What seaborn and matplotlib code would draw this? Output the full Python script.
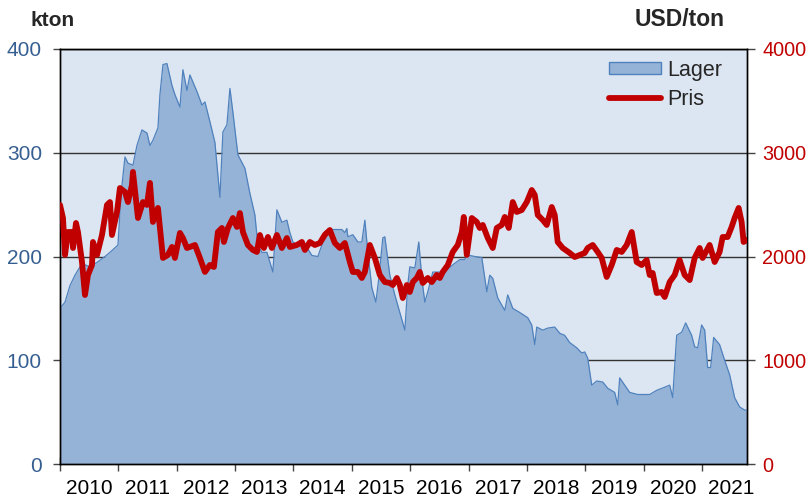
import numpy as np
import pandas as pd
import matplotlib
matplotlib.use("Agg")
import matplotlib.pyplot as plt
from matplotlib.patches import Patch
from matplotlib.lines import Line2D
import seaborn as sns

# ---- data (decimal years after 2010.0) ----
lager_t = [0.000, 0.086, 0.171, 0.257, 0.342, 0.428, 0.514, 0.651, 0.771, 0.856, 0.993,
           1.027, 1.062, 1.113, 1.164, 1.250, 1.318, 1.404, 1.490, 1.541, 1.592, 1.678,
           1.712, 1.764, 1.832, 1.918, 1.969, 2.055, 2.106, 2.175, 2.226, 2.346, 2.432,
           2.483, 2.568, 2.654, 2.740, 2.791, 2.860, 2.911, 2.962, 3.048, 3.168, 3.253,
           3.339, 3.390, 3.459, 3.545, 3.647, 3.716, 3.801, 3.887, 3.938, 3.990, 4.075,
           4.229, 4.315, 4.418, 4.486, 4.538, 4.658, 4.829, 4.880, 4.914, 4.932, 5.017,
           5.103, 5.171, 5.223, 5.274, 5.342, 5.411, 5.462, 5.531, 5.565, 5.651, 5.736,
           5.822, 5.908, 5.959, 5.993, 6.079, 6.147, 6.199, 6.250, 6.301, 6.387, 6.592,
           6.729, 6.849, 6.935, 6.969, 7.021, 7.106, 7.226, 7.312, 7.363, 7.414, 7.500,
           7.620, 7.671, 7.757, 7.877, 8.014, 8.082, 8.134, 8.168, 8.271, 8.356, 8.476,
           8.562, 8.647, 8.733, 8.853, 8.938, 8.990, 9.041, 9.110, 9.195, 9.298, 9.384,
           9.503, 9.555, 9.589, 9.675, 9.760, 9.897, 10.103, 10.223, 10.360, 10.445,
           10.497, 10.565, 10.651, 10.719, 10.822, 10.873, 10.925, 10.993, 11.045,
           11.096, 11.147, 11.199, 11.301, 11.387, 11.473, 11.558, 11.644, 11.729, 11.764]
lager_v = [150, 156, 172, 182, 190, 192, 190, 195, 200, 204, 211,
           243, 269, 296, 290, 288, 307, 322, 319, 307, 312, 324,
           356, 385, 386, 365, 356, 344, 380, 360, 375, 359, 346,
           349, 330, 310, 257, 320, 327, 362, 339, 298, 285, 261,
           240, 211, 204, 204, 185, 245, 233, 235, 223, 214, 211,
           209, 201, 200, 211, 224, 226, 226, 223, 227, 219, 221,
           214, 214, 235, 204, 170, 156, 179, 218, 219, 182, 163,
           146, 129, 173, 190, 189, 214, 179, 156, 166, 185, 185,
           192, 197, 197, 203, 201, 200, 199, 166, 182, 179, 160,
           148, 163, 150, 146, 141, 134, 115, 132, 129, 131, 132,
           126, 124, 117, 112, 107, 108, 102, 76, 80, 79, 73,
           69, 57, 83, 76, 69, 67, 67, 71, 74, 76,
           64, 124, 127, 136, 124, 113, 112, 134, 129,
           93, 93, 122, 115, 100, 86, 64, 55, 52, 52]

pris_t = [0.000, 0.051, 0.086, 0.137, 0.205, 0.223, 0.274, 0.308, 0.377, 0.428, 0.479,
          0.548, 0.565, 0.634, 0.719, 0.805, 0.856, 0.890, 0.976, 1.027, 1.113, 1.164,
          1.233, 1.250, 1.336, 1.421, 1.490, 1.541, 1.592, 1.678, 1.764, 1.849, 1.918,
          1.969, 2.055, 2.106, 2.175, 2.226, 2.312, 2.397, 2.483, 2.568, 2.637, 2.705,
          2.774, 2.808, 2.877, 2.962, 3.031, 3.082, 3.134, 3.219, 3.305, 3.373, 3.425,
          3.493, 3.562, 3.630, 3.716, 3.801, 3.887, 3.938, 4.058, 4.144, 4.195, 4.281,
          4.366, 4.452, 4.538, 4.623, 4.709, 4.795, 4.880, 4.966, 5.017, 5.103, 5.171,
          5.223, 5.308, 5.394, 5.479, 5.565, 5.651, 5.702, 5.771, 5.822, 5.873, 5.942,
          5.993, 6.045, 6.113, 6.164, 6.216, 6.301, 6.370, 6.455, 6.507, 6.558, 6.644,
          6.729, 6.815, 6.884, 6.918, 6.969, 7.055, 7.140, 7.192, 7.243, 7.329, 7.414,
          7.483, 7.568, 7.620, 7.688, 7.757, 7.825, 7.911, 7.997, 8.082, 8.134, 8.185,
          8.271, 8.339, 8.425, 8.476, 8.527, 8.613, 8.733, 8.818, 8.904, 8.990, 9.041,
          9.127, 9.212, 9.281, 9.366, 9.452, 9.538, 9.623, 9.709, 9.795, 9.880, 9.966,
          10.051, 10.103, 10.154, 10.223, 10.308, 10.360, 10.445, 10.531, 10.616,
          10.702, 10.788, 10.873, 10.959, 11.010, 11.130, 11.216, 11.301, 11.353,
          11.438, 11.507, 11.558, 11.627, 11.678, 11.712, 11.764]
pris_v = [2497, 2371, 2015, 2236, 2236, 2082, 2323, 2236, 1947, 1629, 1822,
          1918, 2140, 2015, 2207, 2497, 2525, 2207, 2429, 2660, 2622, 2525,
          2689, 2815, 2371, 2525, 2497, 2709, 2333, 2468, 1986, 2015, 2092,
          1986, 2227, 2178, 2082, 2092, 2111, 1986, 1851, 1918, 1899, 2236,
          2275, 2140, 2275, 2371, 2285, 2419, 2236, 2111, 2063, 2044, 2207,
          2082, 2188, 2082, 2207, 2082, 2178, 2092, 2111, 2140, 2063, 2140,
          2111, 2130, 2210, 2255, 2130, 2082, 2130, 1947, 1851, 1851, 1793,
          1851, 2111, 1986, 1822, 1754, 1745, 1725, 1793, 1725, 1600, 1725,
          1658, 1754, 1793, 1851, 1745, 1793, 1754, 1822, 1793, 1851, 1918,
          2044, 2111, 2236, 2381, 2015, 2371, 2333, 2275, 2304, 2178, 2082,
          2275, 2304, 2381, 2275, 2525, 2429, 2448, 2525, 2641, 2593, 2400,
          2352, 2304, 2477, 2400, 2140, 2082, 2034, 1995, 2015, 2034, 2082,
          2111, 2044, 1986, 1803, 1918, 2063, 2044, 2111, 2236, 1947, 1918,
          1966, 1822, 1841, 1648, 1658, 1610, 1754, 1822, 1966,
          1822, 1773, 1986, 2082, 1986, 2111, 1947, 2044, 2188,
          2188, 2285, 2371, 2468, 2333, 2140, 2159]

years = list(range(2010, 2022))
left_ticks = [0, 100, 200, 300, 400]
right_ticks = [0, 1000, 2000, 3000, 4000]

start_year = 2010
df_l = pd.DataFrame({"t": np.array(lager_t) + start_year, "v": lager_v})
df_p = pd.DataFrame({"t": np.array(pris_t) + start_year, "v": pris_v})

# ---- styling ----
sns.set_theme(style="white")
plt.rcParams["font.family"] = ["Liberation Sans", "DejaVu Sans"]

BG = "#dce6f2"
FILL = "#95b3d7"
EDGE = "#4f81bd"
RED = "#c00000"
BLUE_TXT = "#365f91"
FS = 15

fig = plt.figure(figsize=(8.09, 4.99), dpi=100)
ax = fig.add_axes([60 / 809, 1 - 464 / 499, 687 / 809, 415 / 499])
ax.set_facecolor(BG)
ax.set_axisbelow(True)

ax.fill_between(df_l["t"], 0, df_l["v"], color=FILL, zorder=2, linewidth=0)
sns.lineplot(data=df_l, x="t", y="v", ax=ax, color=EDGE, linewidth=0.9, zorder=3)

ax.set_ylim(0, 400)
ax.set_xlim(2010, 2010 + 11.77)
ax.set_yticks(left_ticks)
ax.yaxis.grid(True, color="#333333", linewidth=1.0)
ax.set_xlabel("")
ax.set_ylabel("")

ax.set_xticks(years)
ax.set_xticklabels([])
ax.set_xticks([y + 0.5 for y in years], minor=True)
ax.set_xticklabels([str(y) for y in years], minor=True, fontsize=FS)
ax.tick_params(axis="x", which="major", direction="inout", length=9.5, width=1,
               color="#444444", bottom=True)
ax.tick_params(axis="x", which="minor", length=0, pad=11, colors="black", bottom=True)
ax.tick_params(axis="y", which="major", direction="out", length=5, width=1,
               color="#444444", labelsize=FS, labelcolor=BLUE_TXT, pad=8, left=True)

ax2 = ax.twinx()
sns.lineplot(data=df_p, x="t", y="v", ax=ax2, color=RED, linewidth=4.2, zorder=4)
ax2.set_ylim(0, 4000)
ax2.set_yticks(right_ticks)
ax2.set_ylabel("")
ax2.set_xlabel("")
ax2.tick_params(axis="y", which="major", direction="out", length=5.5, width=1,
                color="#444444", labelsize=14.3, labelcolor=RED, pad=5.5, right=True)
ax2.grid(False)

for a in (ax, ax2):
    for s in a.spines.values():
        s.set_color("black")
        s.set_linewidth(1.0)
        s.set_visible(True)

fig.text(53 / 809, 1 - 20 / 499, "kton", fontsize=15, fontweight="bold",
         ha="center", va="center")
fig.text(680 / 809, 1 - 20 / 499, "USD/ton", fontsize=16.5, fontweight="bold",
         ha="center", va="center")

handles = [Patch(facecolor=FILL, edgecolor=EDGE, linewidth=1),
           Line2D([0], [0], color=RED, linewidth=4.2)]
fig.legend(handles, ["Lager", "Pris"], loc="upper left",
           bbox_to_anchor=(609 / 809, 1 - 60 / 499), frameon=False, fontsize=15.5,
           handlelength=2.4, handleheight=0.5, handletextpad=0.3, labelspacing=0.38,
           borderpad=0, borderaxespad=0)

fig.savefig("out.png", dpi=100)
